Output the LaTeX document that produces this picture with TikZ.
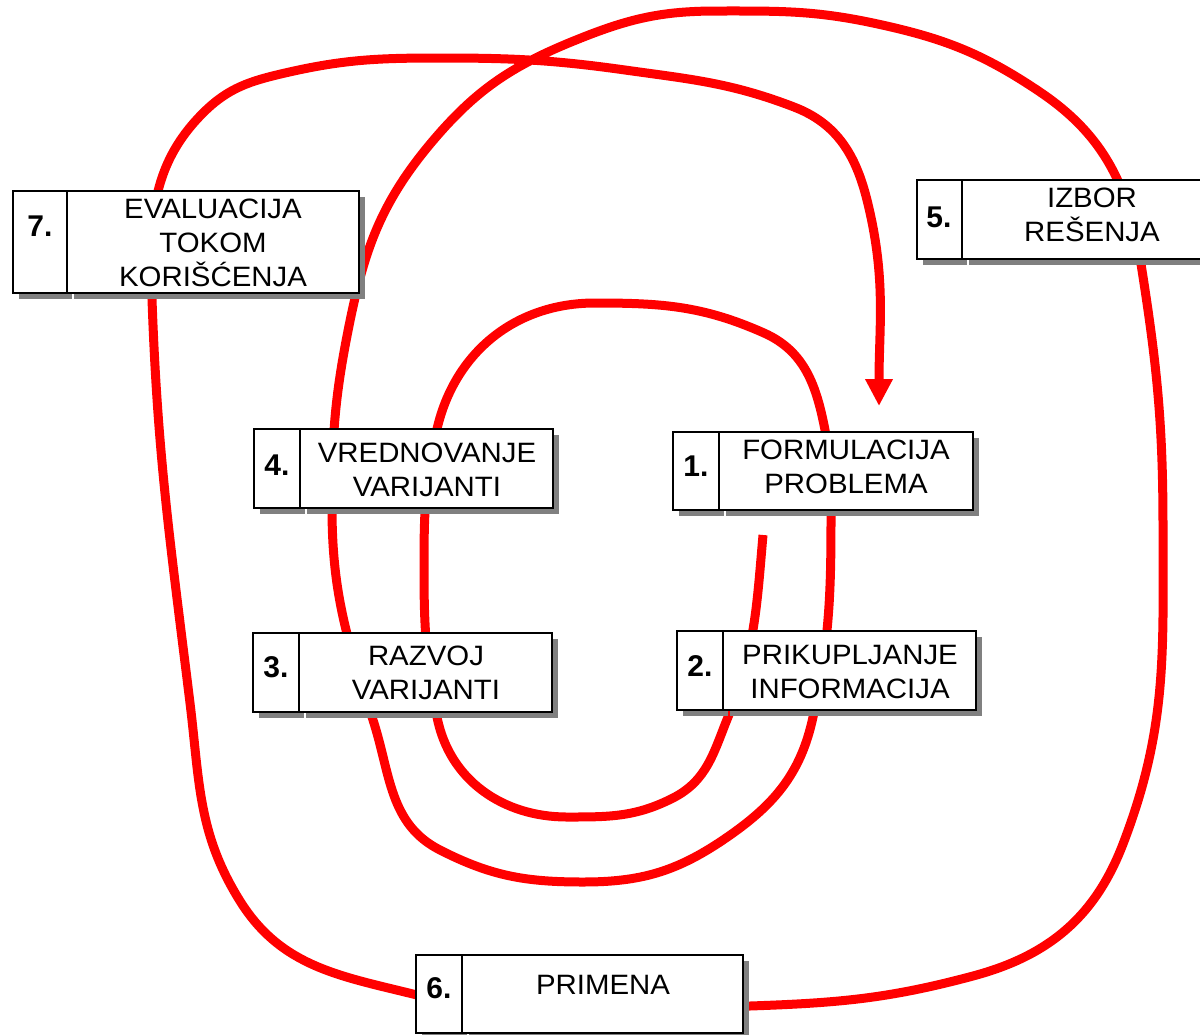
\documentclass[tikz,border=0pt]{standalone}
\usepackage{fontspec}
\setmainfont{Liberation Sans}
\newfontfamily\boxfont[FakeStretch=1.05]{Liberation Sans}
\usetikzlibrary{arrows.meta}
\tikzset{
  spiral/.style={draw=red, line width=4.5pt, line join=round},
  shadowfill/.style={fill=black!50},
  cell/.style={draw=black, fill=white, line width=0.9pt},
  numlbl/.style={font=\fontsize{15}{17}\selectfont\bfseries, inner sep=0pt},
  txtlbl/.style={font=\boxfont\fontsize{14}{17}\selectfont, align=center, inner sep=0pt},
}
\newcommand\stagebox[5]{% x1, xm, x2, y1, y2
  \fill[shadowfill] (#1+6,#4+6) rectangle (#2+5,#5+6);
  \fill[shadowfill] (#2+7,#4+6) rectangle (#3+6,#5+6);
  \draw[cell] (#1,#4) rectangle (#2,#5);
  \draw[cell] (#2,#4) rectangle (#3,#5);
}
\begin{document}
\begin{tikzpicture}[x=0.5pt,y=-0.5pt]
\useasboundingbox (0,0) rectangle (1200,1034);
\clip (0,0) rectangle (1200,1034);
\fill[white] (0,0) rectangle (1200,1034);

\coordinate (start) at (763,535);
\coordinate (tip) at (879,406);
\draw[spiral, -{Triangle[length=13.5pt, width=13pt]}] (start)
  to[out=265, in=68]  (728,717)
  to[out=248, in=27]  (673,798)
  to[out=207, in=0]   (567,817)
  to[out=180, in=281] (437,717)
  to[out=101, in=270] (424,570)
  to[out=90,  in=257] (437,429)
  to[out=77,  in=180] (595,303)
  to[out=0,   in=156] (764,333)
  to[out=336, in=101] (825,430)
  to[out=281, in=90]  (831,518)
  to[out=270, in=78]  (813,717)
  to[out=258, in=34]  (723,840)
  to[out=214, in=0]   (583,882)
  to[out=180, in=333] (440,850)
  to[out=153, in=288] (373,720)
  to[out=108, in=270] (332,508)
  to[out=90,  in=259] (347,336)
  to[out=79,  in=230] (431,143)
  to[out=50,  in=202] (576,40)
  to[out=22,  in=180] (717,11)
  to[out=0,   in=168] (873,23)
  to[out=348, in=146] (1040,92)
  to[out=326, in=99]  (1141,264)
  to[out=279, in=90]  (1163,528)
  to[out=270, in=69]  (1123,844)
  to[out=249, in=15]  (973,976)
  to[out=195, in=2]   (750,1006)
  to[out=182, in=346] (417,995)
  to[out=166, in=302] (240,901)
  to[out=122, in=277] (190,703)
  to[out=97,  in=272] (152,299)
  to[out=92,  in=225] (203,113)
  to[out=45,  in=193] (285,73)
  to[out=13,  in=180] (441,58)
  to[out=0,   in=172] (625,70)
  to[out=352, in=159] (794,107)
  to[out=339, in=104] (867,200)
  to[out=284, in=90]  (tip);

% boxes
\stagebox{13}{67}{359}{191}{293}
\node[numlbl] (n7) at (40,226) {7.};
\node[txtlbl] (t7) at (213,243) {EVALUACIJA\\TOKOM\\KORIŠĆENJA};

\stagebox{917}{962}{1215}{180}{259}
\node[numlbl] (n5) at (939,217) {5.};
\node[txtlbl] (t5) at (1092,215) {IZBOR\\REŠENJA};

\stagebox{254}{300}{553}{429}{508}
\node[numlbl] (n4) at (277,465) {4.};
\node[txtlbl] (t4) at (427,470) {VREDNOVANJE\\VARIJANTI};

\stagebox{253}{299}{552}{633}{712}
\node[numlbl] (n3) at (276,667) {3.};
\node[txtlbl] (t3) at (426,673) {RAZVOJ\\VARIJANTI};

\stagebox{673}{719}{973}{432}{510}
\node[numlbl] (n1) at (696,466) {1.};
\node[txtlbl] (t1) at (846,467) {FORMULACIJA\\PROBLEMA};

\stagebox{677}{723}{976}{631}{710}
\node[numlbl] (n2) at (700,666) {2.};
\node[txtlbl] (t2) at (850,672) {PRIKUPLJANJE\\INFORMACIJA};

\stagebox{416}{462}{743}{955}{1033}
\node[numlbl] (n6) at (439,988) {6.};
\node[txtlbl] (t6) at (603,985) {PRIMENA};
\end{tikzpicture}
\end{document}
